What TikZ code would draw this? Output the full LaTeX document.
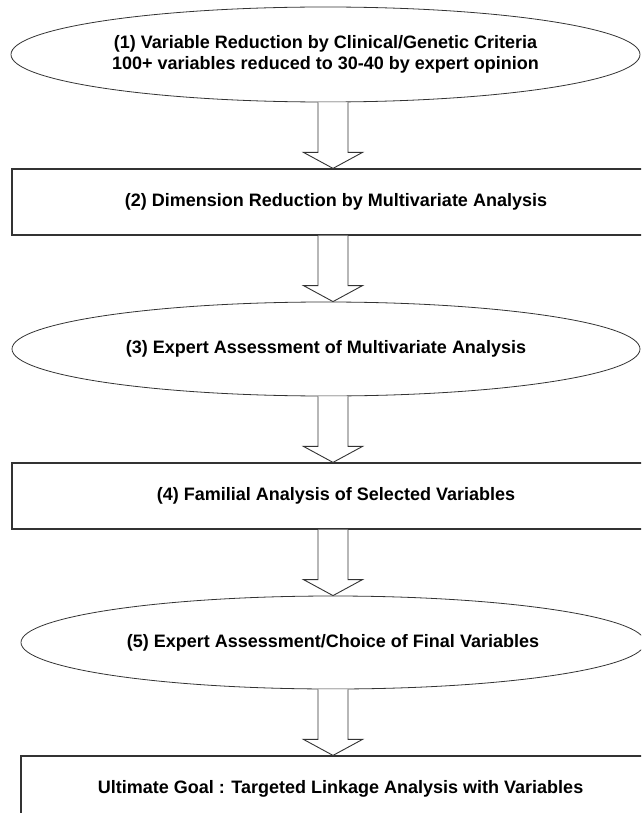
\documentclass[tikz,border=0pt]{standalone}
\usepackage{fontspec}
\setmainfont{Liberation Sans}
\usepackage{tikz}
\usetikzlibrary{shapes.geometric,positioning,calc}

\begin{document}
\begin{tikzpicture}[
  x=1pt, y=-1pt,
  node distance=66pt,
  stage/.style={draw=black!80, line width=0.8pt, ellipse, inner sep=0pt, align=center,
              font=\fontsize{18}{21}\selectfont\bfseries},
  box/.style={draw=black!80, line width=1.2pt, inner sep=0pt, align=center,
              minimum width=648pt, minimum height=66pt,
              font=\fontsize{18}{21}\selectfont\bfseries},
  blockarr/.style={draw=black!80, fill=white, line width=0.9pt, to path={
      ($(\tikztostart)+(-15,0)$) -- ($(\tikztotarget)+(-15,-16)$)
      -- ($(\tikztotarget)+(-29.5,-16)$) -- (\tikztotarget)
      -- ($(\tikztotarget)+(29.5,-16)$) -- ($(\tikztotarget)+(15,-16)$)
      -- ($(\tikztostart)+(15,0)$)}}
]
\useasboundingbox (0,0) rectangle (641,813);
\clip (0,0) rectangle (641,813);
\coordinate (axis) at (333,0);

\node[stage, minimum width=629pt, minimum height=95pt] (crit) at (325.5,54.5)
  {(1) Variable Reduction by Clinical/Genetic Criteria\\100+ variables reduced to 30-40 by expert opinion};
\node[box, below=of crit, xshift=10.5pt] (dimred) {(2) Dimension Reduction by Multivariate Analysis};
\node[stage, minimum width=628pt, minimum height=94pt, below=of dimred, xshift=-10pt] (assess)
  {(3) Expert Assessment of Multivariate Analysis};
\node[box, below=of assess, xshift=10pt] (familial) {(4) Familial Analysis of Selected Variables};
\node[stage, minimum width=624pt, minimum height=93pt, below=of familial, xshift=-3pt] (choice)
  {(5) Expert Assessment/Choice of Final Variables};
\node[box, minimum width=639pt, below=of choice, xshift=7.5pt] (goal)
  {Ultimate Goal : Targeted Linkage Analysis with Variables};

\draw[blockarr] (axis |- crit.south) to (axis |- dimred.north);
\draw[blockarr] (axis |- dimred.south) to (axis |- assess.north);
\draw[blockarr] (axis |- assess.south) to (axis |- familial.north);
\draw[blockarr] (axis |- familial.south) to (axis |- choice.north);
\draw[blockarr] (axis |- choice.south) to (axis |- goal.north);
\end{tikzpicture}
\end{document}
